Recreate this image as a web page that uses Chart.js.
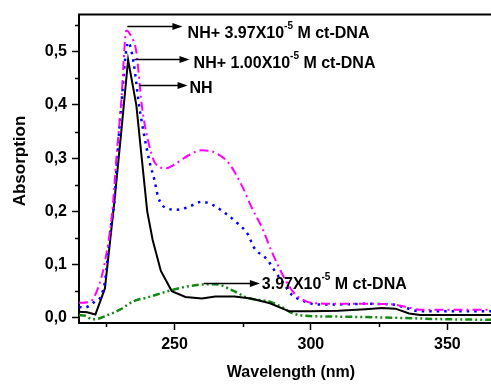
<!DOCTYPE html>
<html>
<head>
<meta charset="utf-8">
<script src="https://cdn.jsdelivr.net/npm/chart.js@4.4.1/dist/chart.umd.min.js"></script>
<style>
  html, body { margin: 0; padding: 0; background: #fff; }
  #wrap { width: 491px; height: 385px; position: relative; }
</style>
</head>
<body>
<div id="wrap"><canvas id="SpecChart"></canvas></div>
<script>
// NH alone
var wlNH  = [215, 218, 221, 224.5, 228, 230.5, 233, 236, 238, 240, 242, 245, 249, 254, 260, 265, 272, 278, 285, 292, 300, 310, 320, 326, 331, 336, 340, 350, 366];
var absNH = [0.011, 0.010, 0.006, 0.055, 0.22, 0.35, 0.485, 0.40, 0.30, 0.20, 0.146, 0.088, 0.05, 0.039, 0.036, 0.040, 0.040, 0.036, 0.027, 0.012, 0.012, 0.013, 0.016, 0.018, 0.017, 0.008, 0.005, 0.005, 0.005];

// NH + 1.00x10-5 M ct-DNA
var wlLow  = [215, 217, 221, 223, 224.6, 226.5, 228, 229, 230.5, 233, 235, 237, 239, 241, 242.6, 244, 247, 251, 255, 260, 264, 269, 273, 277, 279, 284, 287, 290, 293, 297, 302, 310, 320, 330, 335, 340, 350, 366];
var absLow = [0.02, 0.019, 0.031, 0.04, 0.071, 0.165, 0.22, 0.30, 0.40, 0.518, 0.48, 0.40, 0.34, 0.29, 0.26, 0.227, 0.206, 0.203, 0.208, 0.218, 0.212, 0.195, 0.178, 0.156, 0.133, 0.109, 0.086, 0.064, 0.043, 0.032, 0.025, 0.025, 0.026, 0.025, 0.018, 0.012, 0.012, 0.012];

// NH + 3.97x10-5 M ct-DNA
var wlHigh  = [215, 219, 222, 224.3, 227.2, 228.7, 230.4, 232.4, 234, 236, 238, 240, 243, 247, 250, 255, 260, 265, 270, 275, 278, 282, 286, 290, 294, 297, 300, 310, 320, 330, 335, 340, 350, 366];
var absHigh = [0.028, 0.030, 0.056, 0.10, 0.20, 0.30, 0.40, 0.54, 0.53, 0.50, 0.40, 0.34, 0.29, 0.281, 0.288, 0.305, 0.315, 0.31, 0.29, 0.245, 0.21, 0.17, 0.12, 0.077, 0.045, 0.034, 0.028, 0.026, 0.026, 0.025, 0.02, 0.015, 0.015, 0.015];

// 3.97x10-5 M ct-DNA alone
var wlDNA  = [215, 217, 220, 222, 225, 230, 235, 240, 247, 253, 259, 265, 271, 277, 285, 290, 293, 297, 310, 330, 350, 366];
var absDNA = [0.005, 0.004, -0.003, -0.002, 0.004, 0.015, 0.031, 0.038, 0.049, 0.057, 0.062, 0.063, 0.052, 0.037, 0.03, 0.018, 0.009, 0.004, 0.002, 0.0, -0.003, -0.004];

var xTicks = [250, 300, 350];
var xMinor = [225, 275, 325];
var yTicks = [0, 0.1, 0.2, 0.3, 0.4, 0.5];
var yMinor = [0.05, 0.15, 0.25, 0.35, 0.45, 0.55];

function pts(xs, ys) {
  return xs.map(function (x, i) { return { x: x, y: ys[i] }; });
}

var FONT = '"Liberation Sans", Arial, sans-serif';

// arrows + labels, given in data units
var notes = [
  { x0: 232.7, x1: 252.9, y: 0.548, tx: 254.8, ty: 0.535, main: 'NH+ 3.97X10', sup: '-5', rest: ' M ct-DNA' },
  { x0: 235.3, x1: 255.5, y: 0.486, tx: 257.0, ty: 0.478, main: 'NH+ 1.00X10', sup: '-5', rest: ' M ct-DNA' },
  { x0: 237.1, x1: 254.8, y: 0.437, tx: 255.5, ty: 0.431, main: 'NH', sup: '', rest: '' },
  { x0: 260.7, x1: 281.3, y: 0.066, tx: 282.0, ty: 0.062, main: '3.97X10', sup: '-5', rest: ' M ct-DNA' }
];

var extras = {
  id: 'extras',
  afterDraw: function (chart) {
    var ctx = chart.ctx, a = chart.chartArea;
    var xs = chart.scales.x, ys = chart.scales.y;
    ctx.save();
    // top frame line
    ctx.strokeStyle = '#000';
    ctx.lineWidth = 2;
    ctx.beginPath();
    ctx.moveTo(a.left - 1, a.top);
    ctx.lineTo(a.right, a.top);
    ctx.stroke();
    // minor ticks
    ctx.lineWidth = 1.5;
    ctx.beginPath();
    xMinor.forEach(function (v) {
      var px = Math.round(xs.getPixelForValue(v)) + 0.5;
      ctx.moveTo(px, a.bottom);
      ctx.lineTo(px, a.bottom + 4);
    });
    yMinor.forEach(function (v) {
      var py = Math.round(ys.getPixelForValue(v)) + 0.5;
      ctx.moveTo(a.left, py);
      ctx.lineTo(a.left - 4, py);
    });
    ctx.stroke();

    // arrows and labels
    ctx.fillStyle = '#000';
    ctx.lineWidth = 1.3;
    notes.forEach(function (n) {
      var x0 = xs.getPixelForValue(n.x0), x1 = xs.getPixelForValue(n.x1);
      var py = Math.round(ys.getPixelForValue(n.y)) + 0.5;
      ctx.beginPath();
      ctx.moveTo(x0, py);
      ctx.lineTo(x1 - 6, py);
      ctx.stroke();
      ctx.beginPath();
      ctx.moveTo(x1, py);
      ctx.lineTo(x1 - 10, py - 3.5);
      ctx.lineTo(x1 - 10, py + 3.5);
      ctx.closePath();
      ctx.fill();

      var tx = xs.getPixelForValue(n.tx), ty = ys.getPixelForValue(n.ty);
      ctx.textBaseline = 'middle';
      ctx.textAlign = 'left';
      ctx.font = 'bold 16px ' + FONT;
      ctx.fillText(n.main, tx, ty);
      tx += ctx.measureText(n.main).width;
      if (n.sup) {
        ctx.font = 'bold 10px ' + FONT;
        ctx.fillText(n.sup, tx, ty - 7);
        tx += ctx.measureText(n.sup).width;
      }
      if (n.rest) {
        ctx.font = 'bold 16px ' + FONT;
        ctx.fillText(n.rest, tx, ty);
      }
    });

    // axis titles
    ctx.font = 'bold 16px ' + FONT;
    ctx.textAlign = 'center';
    ctx.textBaseline = 'middle';
    ctx.fillText('Wavelength (nm)', 291, 373);
    ctx.translate(20, 161);
    ctx.rotate(-Math.PI / 2);
    ctx.font = 'bold 17px ' + FONT;
    ctx.fillText('Absorption', 0, 0);
    ctx.restore();
  }
};

var ctx = document.getElementById('SpecChart').getContext('2d');
var SpecChart = new Chart(ctx, {
  type: 'line',
  data: {
    datasets: [
      { label: 'NH+ 3.97X10-5 M ct-DNA', data: pts(wlHigh, absHigh), borderColor: '#ff00ff',
        borderWidth: 2, borderDash: [9, 4, 2, 4], cubicInterpolationMode: 'monotone' },
      { label: 'NH+ 1.00X10-5 M ct-DNA', data: pts(wlLow, absLow), borderColor: '#0000ff',
        borderWidth: 2.5, borderDash: [2.5, 5], cubicInterpolationMode: 'monotone' },
      { label: 'NH', data: pts(wlNH, absNH), borderColor: '#000000', borderWidth: 2 },
      { label: '3.97X10-5 M ct-DNA', data: pts(wlDNA, absDNA), borderColor: '#138a13',
        borderWidth: 2.5, borderDash: [7, 3, 2, 3, 2, 3], cubicInterpolationMode: 'monotone' }
    ]
  },
  options: {
    responsive: true,
    maintainAspectRatio: false,
    animation: false,
    layout: { padding: { top: 14, right: 0, left: 0, bottom: 0 } },
    elements: { point: { radius: 0 } },
    plugins: { legend: { display: false }, tooltip: { enabled: false } },
    scales: {
      x: {
        type: 'linear',
        min: 215,
        max: 366,
        afterFit: function (s) { s.height = 62; },
        afterBuildTicks: function (s) { s.ticks = xTicks.map(function (v) { return { value: v }; }); },
        grid: { drawOnChartArea: false, drawTicks: true, tickLength: 7, tickColor: '#000', tickWidth: 1.5 },
        border: { display: true, color: '#000', width: 2 },
        ticks: { color: '#000', padding: 5, maxRotation: 0, font: { family: FONT, size: 16, weight: 'bold' } }
      },
      y: {
        min: -0.01,
        max: 0.57,
        afterFit: function (s) { s.width = 79; },
        afterBuildTicks: function (s) { s.ticks = yTicks.map(function (v) { return { value: v }; }); },
        grid: { drawOnChartArea: false, drawTicks: true, tickLength: 7, tickColor: '#000', tickWidth: 1.5 },
        border: { display: true, color: '#000', width: 2 },
        ticks: {
          color: '#000', padding: 5,
          font: { family: FONT, size: 16, weight: 'bold' },
          callback: function (v) { return v.toFixed(1).replace('.', ','); }
        }
      }
    }
  },
  plugins: [extras]
});
</script>
</body>
</html>
